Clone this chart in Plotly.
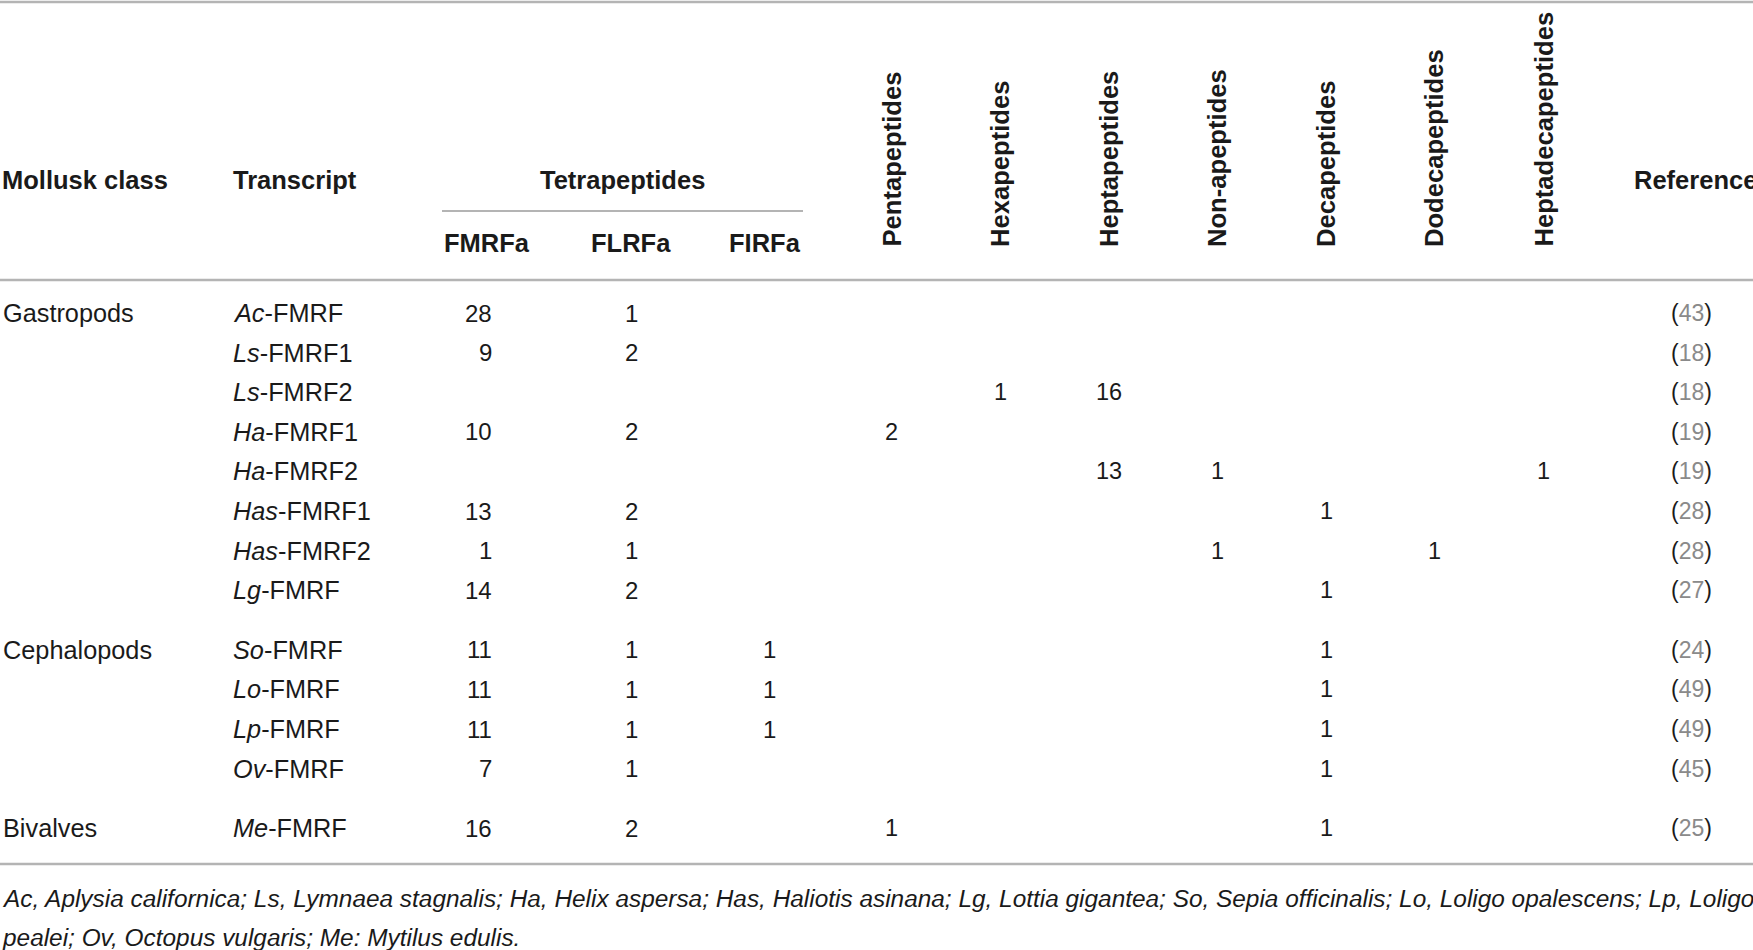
import plotly.graph_objects as go

# table content
classes = ["Gastropods", "Cephalopods", "Bivalves"]
class_rows = [8, 4, 1]
species = ["Ac", "Ls", "Ls", "Ha", "Ha", "Has", "Has", "Lg", "So", "Lo", "Lp", "Ov", "Me"]
transcripts = ["FMRF", "FMRF1", "FMRF2", "FMRF1", "FMRF2", "FMRF1", "FMRF2", "FMRF",
               "FMRF", "FMRF", "FMRF", "FMRF", "FMRF"]
tetra_headers = ["FMRFa", "FLRFa", "FIRFa"]
fmrfa = [28, 9, None, 10, None, 13, 1, 14, 11, 11, 11, 7, 16]
flrfa = [1, 2, None, 2, None, 2, 1, 2, 1, 1, 1, 1, 2]
firfa = [None, None, None, None, None, None, None, None, 1, 1, 1, None, None]
peptide_headers = ["Pentapeptides", "Hexapeptides", "Heptapeptides", "Non-apeptides",
                   "Decapeptides", "Dodecapeptides", "Heptadecapeptides"]
penta = [None, None, None, 2, None, None, None, None, None, None, None, None, 1]
hexa = [None, None, 1, None, None, None, None, None, None, None, None, None, None]
hepta = [None, None, 16, None, 13, None, None, None, None, None, None, None, None]
nona = [None, None, None, None, 1, None, 1, None, None, None, None, None, None]
deca = [None, None, None, None, None, 1, None, 1, 1, 1, 1, 1, 1]
dodeca = [None, None, None, None, None, None, 1, None, None, None, None, None, None]
heptadeca = [None, None, None, None, 1, None, None, None, None, None, None, None, None]
references = [43, 18, 18, 19, 19, 28, 28, 27, 24, 49, 49, 45, 25]
footnote = [
    "<i>Ac, Aplysia californica; Ls, Lymnaea stagnalis; Ha, Helix aspersa; Has, Haliotis asinana; "
    "Lg, Lottia gigantea; So, Sepia officinalis; Lo, Loligo opalescens; Lp, Loligo</i>",
    "<i>pealei; Ov, Octopus vulgaris; Me: Mytilus edulis.</i>",
]

W, H = 1753, 950
FONT = "Liberation Sans, Arial, sans-serif"
INK = "#1a1a1a"
RULE = "#b4b4b4"

# layout of the grid
row_y = []
for g, n in enumerate(class_rows):
    for k in range(n):
        row_y.append(313 + 39.6 * len(row_y) + 20 * g)
class_x, transcript_x = 1, 231
tetra_x = [494, 631, 769]
peptide_x = [891, 1000, 1109, 1217, 1326, 1434, 1543]
ref_x = 1691

fig = go.Figure(go.Scatter(x=[], y=[], hoverinfo="skip"))


def cell(x, y, text, anchor="center", size=25.5, bold=False, angle=0, yanchor="middle"):
    if bold:
        text = "<b>" + text + "</b>"
    fig.add_annotation(x=x, y=y, xref="x", yref="y", text=text, showarrow=False,
                       xanchor=anchor, yanchor=yanchor, textangle=angle,
                       font=dict(family=FONT, size=size, color=INK))


# header
cell(0, 180, "Mollusk class", "left", bold=True)
cell(transcript_x, 180, "Transcript", "left", bold=True)
cell((442 + 803) / 2, 180, "Tetrapeptides", bold=True)
cell(442, 243, tetra_headers[0], "left", bold=True)
cell(tetra_x[1], 243, tetra_headers[1], bold=True)
cell(803, 243, tetra_headers[2], "right", bold=True)
for x, name in zip(peptide_x, peptide_headers):
    cell(x, 249, name, size=25.6, bold=True, angle=-90, yanchor="bottom")
cell(1632, 180, "Reference", "left", bold=True)

# body
start = 0
for name, n in zip(classes, class_rows):
    cell(class_x, row_y[start], name, "left", size=25.3)
    start += n
for i, y in enumerate(row_y):
    cell(transcript_x, y, "<i>%s</i>-%s" % (species[i], transcripts[i]), "left", size=25.3)
    if fmrfa[i] is not None:
        cell(tetra_x[0], y, str(fmrfa[i]), "right", size=24)
    for x, col in zip(tetra_x[1:], [flrfa, firfa]):
        if col[i] is not None:
            cell(x, y, str(col[i]), size=24)
    for x, col in zip(peptide_x, [penta, hexa, hepta, nona, deca, dodeca, heptadeca]):
        if col[i] is not None:
            cell(x, y, str(col[i]), size=23.5)
    cell(ref_x, y, "(<span style='color:#8a8a8a'>%d</span>)" % references[i], size=23)

# footnote
cell(0, 898, footnote[0], "left", size=24.4)
cell(0, 937, footnote[1], "left", size=24.4)

# rules
for y in [2, 280, 864]:
    fig.add_shape(type="line", xref="x", yref="y", x0=0, x1=W, y0=y, y1=y,
                  line=dict(color=RULE, width=2.5))
fig.add_shape(type="line", xref="x", yref="y", x0=442, x1=803, y0=211, y1=211,
              line=dict(color=RULE, width=2))

fig.update_xaxes(range=[0, W], visible=False)
fig.update_yaxes(range=[H, 0], visible=False)
fig.update_layout(width=W, height=H, margin=dict(l=0, r=0, t=0, b=0),
                  plot_bgcolor="white", paper_bgcolor="white", showlegend=False,
                  hovermode=False)

fig.write_html("out.html", config={"displayModeBar": False, "staticPlot": True},
               post_script="document.body.style.margin = '0px';")
